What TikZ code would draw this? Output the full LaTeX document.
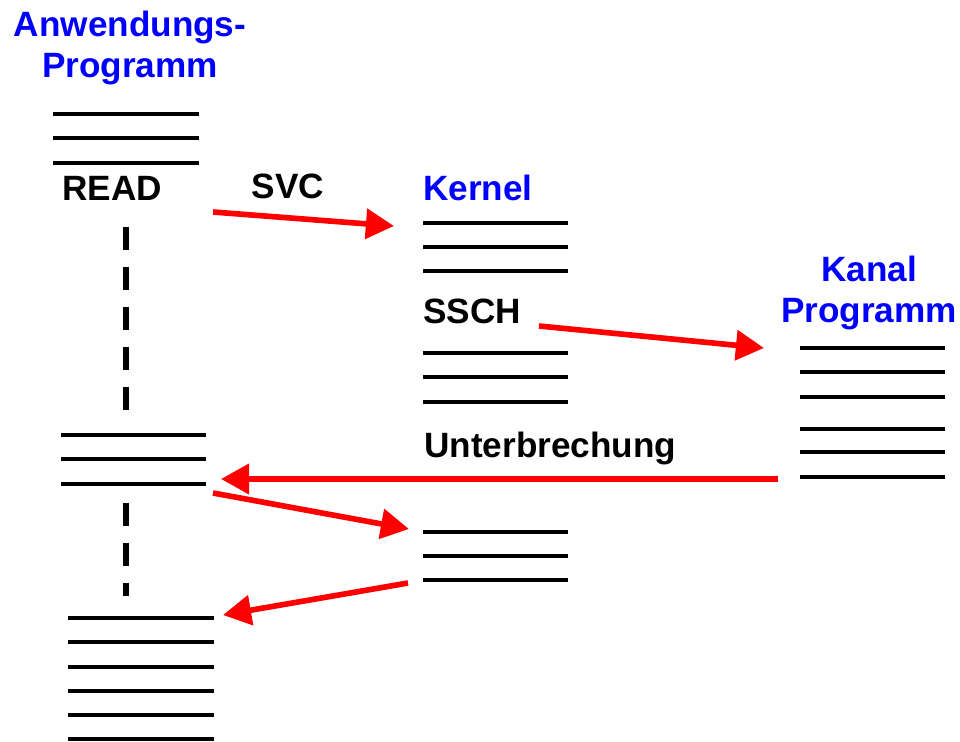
\documentclass[tikz,border=0pt]{standalone}
\usepackage{fontspec}
\setmainfont{Liberation Sans}
\usetikzlibrary{arrows.meta}

\begin{document}
\begin{tikzpicture}
  [
    x=0.025cm, y=-0.025cm,
    >={Triangle[length=20pt,width=21pt]},
    bar/.style   = {line width=3.1pt},
    jump/.style  = {draw=red, line width=4pt, ->},
    word/.style  = {font=\fontsize{25}{28.5}\selectfont\bfseries, inner sep=0pt, anchor=base},
    head/.style  = {word, text=blue, align=center},
    trace/.style = {line width=3.6pt, dash pattern=on 16.4pt off 12.1pt},
  ]

%Picture frame
\useasboundingbox (0,0) rectangle (960,742);

%Left and right ends of the kernel bars
\def \kl{423}
\def \kr{568}

%Application program
\foreach \y in {114,138,163}
  \draw[bar] (53,\y) -- (199,\y);
\foreach \y in {435,459,484}
  \draw[bar] (61,\y) -- (206,\y);
\foreach \y in {618,642,667,691,715,739}
  \draw[bar] (68,\y) -- (214,\y);

%Kernel
\foreach \y in {223,247,271,353,377,402,532,556,580}
  \draw[bar] (\kl,\y) -- (\kr,\y);

%Channel program
\foreach \y in {348,372,397,429,452,477}
  \draw[bar] (800,\y) -- (945,\y);

%Waiting of the application program
\draw[trace] (126,227) -- (126,410);
\draw[trace] (126,503) -- (126,596);

%Labels (base of the last line)
\node[head] (anw)   at (130,77)  {Anwendungs-\\Programm};
\node[word] (read)  at (112,200) {READ};
\node[word] (svc)   at (288,198) {SVC};
\node[head] (kern)  at (478,200) {Kernel};
\node[word] (ssch)  at (472,323) {SSCH};
\node[head] (kanal) at (869,322) {Kanal\\Programm};
\node[word, anchor=base west] (unt) at (424,457) {Unterbrechung};

%Ends of the jumps
\coordinate (svcA)  at (213,212);
\coordinate (svcB)  at (394,226);
\coordinate (sschA) at (539,326);
\coordinate (sschB) at (764,348);
\coordinate (intA)  at (778,479);
\coordinate (intB)  at (221,479);
\coordinate (retA)  at (213,493);
\coordinate (retB)  at (409,529);
\coordinate (backA) at (408,583);
\coordinate (backB) at (223,615);

\draw[jump] (svcA) -- (svcB);
\draw[jump] (sschA) -- (sschB);
\draw[jump] (intA) -- (intB);
\draw[jump] (retA) -- (retB);
\draw[jump] (backA) -- (backB);
\end{tikzpicture}
\end{document}
